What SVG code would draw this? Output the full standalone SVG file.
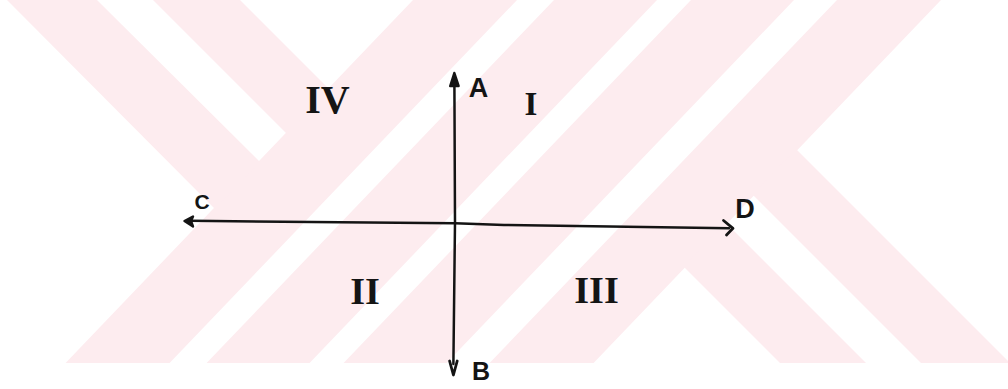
<svg xmlns="http://www.w3.org/2000/svg" width="1008" height="389" viewBox="0 0 1008 389">
  <defs>
    <clipPath id="wmclip"><rect x="0" y="0" width="1008" height="363"/></clipPath>
    <style>
      .wm { fill: #fdecef; }
      .ax { fill: none; stroke: #141414; stroke-width: 2.5; stroke-linecap: round; stroke-linejoin: round; }
      .head { fill: #141414; stroke: #141414; stroke-width: 2.4; stroke-linecap: round; stroke-linejoin: round; }
      .openhead { fill: none; stroke: #141414; stroke-width: 2.8; stroke-linecap: round; stroke-linejoin: round; }
      .lbl { font-family: "Liberation Sans", Arial, sans-serif; font-weight: bold; fill: #141414; text-anchor: middle; }
      .rom { font-family: "Liberation Serif", "Times New Roman", serif; font-weight: bold; fill: #141414; text-anchor: middle; }
    </style>
  </defs>
  <rect x="0" y="0" width="1008" height="389" fill="#ffffff"/>

  <g id="watermark" clip-path="url(#wmclip)">
    <polygon class="wm" points="413,0 517,0 169.6,363 65.6,363"/>
    <polygon class="wm" points="554,0 657,0 309.6,363 206.6,363"/>
    <polygon class="wm" points="7,0 97,0 260,162 215,209"/>
    <polygon class="wm" points="153,0 240,0 330,90 287,134"/>
    <polygon class="wm" points="691,0 794,0 446.6,363 343.6,363"/>
    <polygon class="wm" points="837,0 941,0 593.6,363 489.6,363"/>
    <polygon class="wm" points="683.5,266.5 725.5,222.5 866,363 780,363"/>
    <polygon class="wm" points="752.5,194.5 796,149 1010,363 921,363"/>
  </g>

  <g id="connectors">
    <path id="axis-AB" class="ax" d="M454.4,84 L455,222 L453.4,364"/>
    <path id="axis-CD" class="ax" d="M190,220.8 L455,223.3 L504,225 L729,228.2"/>
    <polygon id="head-A" class="head" points="454.3,73 450.2,86 458.6,86"/>
    <path id="head-B" class="openhead" d="M449.6,361 L453.4,375 L457.2,361"/>
    <polygon id="head-C" class="head" points="184.5,221 193,216.5 191,221 193,226.5"/>
    <path id="head-D" class="openhead" d="M723.5,220.5 L733,228.3 L726.5,235"/>
  </g>

  <g id="node-A"><text class="lbl" x="478.5" y="97" font-size="27">A</text></g>
  <g id="node-B"><text class="lbl" x="481" y="380" font-size="25">B</text></g>
  <g id="node-C"><text class="lbl" x="202" y="209" font-size="21">C</text></g>
  <g id="node-D"><text class="lbl" x="745" y="218" font-size="27">D</text></g>
  <g id="node-I"><text class="rom" x="531" y="115" font-size="33">I</text></g>
  <g id="node-II"><text class="rom" x="365" y="304" font-size="38">II</text></g>
  <g id="node-III"><text class="rom" x="596.5" y="303" font-size="38">III</text></g>
  <g id="node-IV"><text class="rom" x="327.5" y="113" font-size="40">IV</text></g>
</svg>
